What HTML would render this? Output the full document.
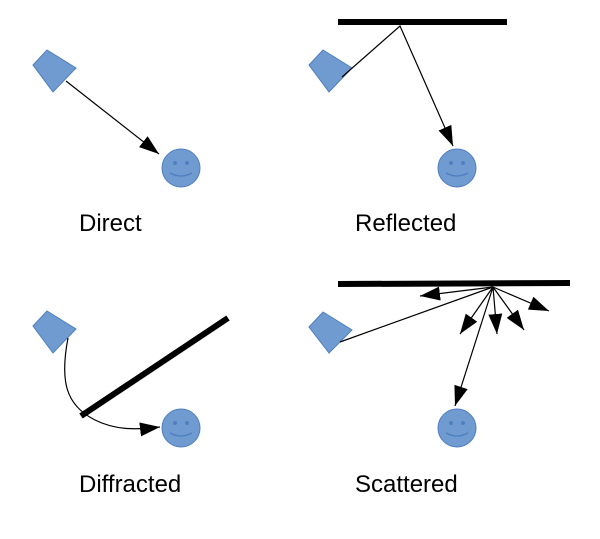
<!DOCTYPE html>
<html><head><style>body{margin:0;background:#fff}svg{display:block}text{font-family:"Liberation Sans",sans-serif;font-size:24px;fill:#000}</style></head>
<body>
<svg width="600" height="539" viewBox="0 0 600 539" xmlns="http://www.w3.org/2000/svg">
<defs>
<marker id="b" markerWidth="20" markerHeight="14" refX="20" refY="7" orient="auto" markerUnits="userSpaceOnUse"><path d="M0,0 L20,7 L0,14 Z" fill="#000"/></marker>
<g id="spk"><path d="M33,65 L47,50 L76,68 L53,92 Z" fill="#6f9bd1" stroke="#4f7fbf" stroke-width="1"/></g>
<g id="face"><circle r="19" fill="#6f9bd1" stroke="#4f7fbf"/><circle cx="-6" cy="-5" r="2" fill="#4f7fbf"/><circle cx="6" cy="-5" r="2" fill="#4f7fbf"/><path d="M-11,5 Q0,11 11,5" fill="none" stroke="#4f7fbf" stroke-width="1.3"/></g>
</defs>
<use href="#spk"/>
<line x1="66" y1="81" x2="159" y2="154" stroke="#000" stroke-width="1.2" marker-end="url(#b)"/>
<use href="#face" x="181" y="168"/>
<text x="79" y="231">Direct</text>
<use href="#spk" x="276" y="0"/>
<rect x="338" y="19" width="169" height="6" fill="#000"/>
<polyline points="342,77 400,26 453,146" fill="none" stroke="#000" stroke-width="1.2" marker-end="url(#b)"/>
<use href="#face" x="457" y="168"/>
<text x="355" y="231">Reflected</text>
<use href="#spk" x="0" y="261"/>
<line x1="81" y1="416" x2="228" y2="318" stroke="#000" stroke-width="6"/>
<path d="M68,338 C60,380 65,405 95,420 C115,430 135,430 160,427" fill="none" stroke="#000" stroke-width="1.2" marker-end="url(#b)"/>
<use href="#face" x="181" y="428"/>
<text x="79" y="492">Diffracted</text>
<path d="M309,327 L323,312 L352,330 L329,353 Z" fill="#6f9bd1" stroke="#4f7fbf"/>
<line x1="338" y1="284" x2="570" y2="283" stroke="#000" stroke-width="6"/>
<g stroke="#000" stroke-width="1.2">
<line x1="340" y1="342" x2="493" y2="287"/>
<line x1="493" y1="287" x2="420" y2="296" marker-end="url(#b)"/>
<line x1="493" y1="287" x2="460" y2="334" marker-end="url(#b)"/>
<line x1="493" y1="287" x2="497" y2="334" marker-end="url(#b)"/>
<line x1="493" y1="287" x2="524" y2="330" marker-end="url(#b)"/>
<line x1="493" y1="287" x2="549" y2="311" marker-end="url(#b)"/>
<line x1="493" y1="287" x2="455" y2="406" marker-end="url(#b)"/>
</g>
<use href="#face" x="457" y="428"/>
<text x="355" y="492">Scattered</text>
</svg>
</body></html>
